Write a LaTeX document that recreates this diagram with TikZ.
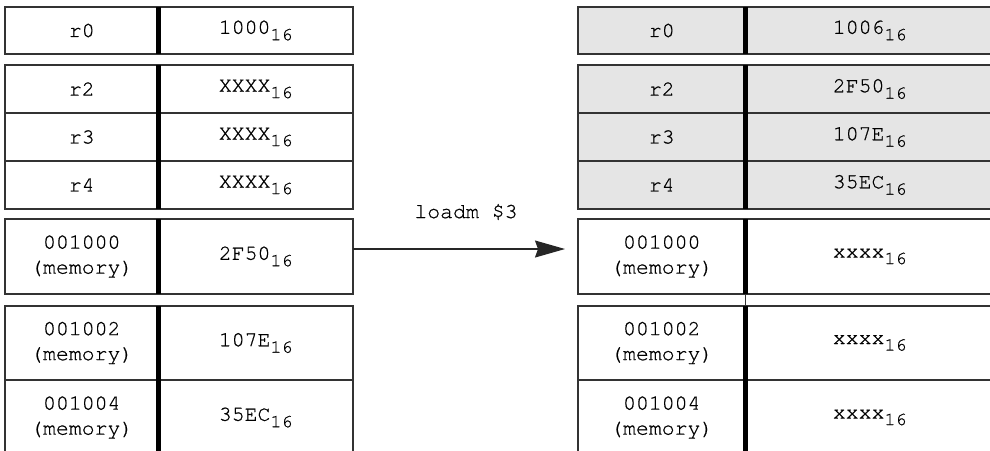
\documentclass[tikz,border=0pt]{standalone}
\usepackage{fontspec}
\setmainfont{texgyrecursor-regular.otf}[FakeBold=0.7]
\usetikzlibrary{arrows.meta}
\newcommand\hexv[1]{#1\raisebox{-0.3em}{\fontsize{18.5pt}{18.5pt}\selectfont 16}}
\newcommand\cellpair[9]{%
  \node[cell,#9,minimum width=#4pt,minimum height=#6pt,anchor=north west] (#1k) at (#2,#3) {#7};
  \node[cell,#9,minimum width=#5pt,minimum height=#6pt,anchor=north west] (#1v) at (#1k.north east) {#8};
}
\tikzset{
  cell/.style={draw=black!80,line width=1.2pt,inner sep=0pt,outer sep=0pt,align=center,
    font=\fontsize{21.5pt}{25pt}\selectfont},
  plain/.style={fill=white},
  shaded/.style={fill=black!10},
  divider/.style={line width=5.5pt,black},
  joiner/.style={line width=0.8pt,black!80},
  arrowline/.style={line width=1.2pt,black!85,-{Stealth[length=30pt,width=17pt,inset=3pt]}},
  lbl/.style={font=\fontsize{21.5pt}{25pt}\selectfont,inner sep=0pt}
}
\begin{document}
\begin{tikzpicture}[x=1pt,y=-1pt]
\useasboundingbox[fill=white] (0,0) rectangle (990,450);
% left table
\cellpair{lr0}{5}{7}{153.5}{194.5}{47}{r0}{\hexv{1000}}{plain}
\cellpair{lr2}{5}{65}{153.5}{194.5}{48}{r2}{\hexv{XXXX}}{plain}
\cellpair{lr3}{5}{113}{153.5}{194.5}{48}{r3}{\hexv{XXXX}}{plain}
\cellpair{lr4}{5}{161}{153.5}{194.5}{48}{r4}{\hexv{XXXX}}{plain}
\cellpair{lm0}{5}{219}{153.5}{194.5}{75}{001000\\(memory)}{\hexv{2F50}}{plain}
\cellpair{lm2}{5}{306}{153.5}{194.5}{74}{001002\\(memory)}{\hexv{107E}}{plain}
\cellpair{lm4}{5}{380}{153.5}{194.5}{75}{001004\\(memory)}{\hexv{35EC}}{plain}
% right table
\cellpair{rr0}{578}{7}{167.5}{248.5}{47}{r0}{\hexv{1006}}{shaded}
\cellpair{rr2}{578}{65}{167.5}{248.5}{48}{r2}{\hexv{2F50}}{shaded}
\cellpair{rr3}{578}{113}{167.5}{248.5}{48}{r3}{\hexv{107E}}{shaded}
\cellpair{rr4}{578}{161}{167.5}{248.5}{48}{r4}{\hexv{35EC}}{shaded}
\cellpair{rm0}{578}{219}{167.5}{248.5}{75}{001000\\(memory)}{\hexv{xxxx}}{plain}
\cellpair{rm2}{578}{306}{167.5}{248.5}{74}{001002\\(memory)}{\hexv{xxxx}}{plain}
\cellpair{rm4}{578}{380}{167.5}{248.5}{75}{001004\\(memory)}{\hexv{xxxx}}{plain}
% dividers
\foreach \s in {l,r}{
  \draw[divider] (\s r0k.north east) -- (\s r0k.south east);
  \draw[divider] (\s r2k.north east) -- (\s r4k.south east);
  \draw[divider] (\s m0k.north east) -- (\s m0k.south east);
  \draw[divider] (\s m2k.north east) -- (\s m4k.south east);
}
\draw[joiner] (rm0k.south east) -- (rm2k.north east);
% arrow
\coordinate (as) at ([yshift=7.5pt]lm0v.east);
\coordinate (ae) at ([xshift=-13pt,yshift=7.5pt]rm0k.west);
\draw[arrowline] (as) -- (ae);
\node[lbl] (op) at (466,212) {loadm \$3};
\end{tikzpicture}
\end{document}
